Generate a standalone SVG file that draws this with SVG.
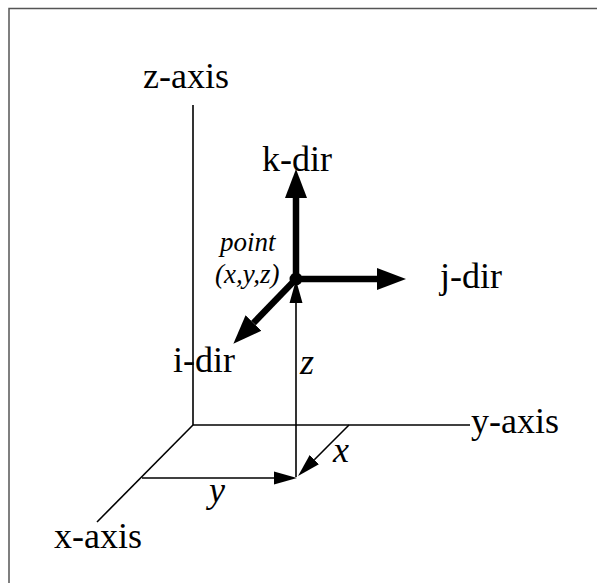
<svg xmlns="http://www.w3.org/2000/svg" width="597" height="583" viewBox="0 0 597 583">
<style>
.ax{stroke:#000;stroke-width:1.6;fill:none}
.thin{stroke:#000;stroke-width:1.6;fill:none;marker-end:url(#hThin)}
.thick{stroke:#000;stroke-width:6.5;fill:none;marker-end:url(#hThick)}
.lab{font-family:"Liberation Serif","Times New Roman",serif;font-size:36px;fill:#000}
.it{font-family:"Liberation Serif","Times New Roman",serif;font-style:italic;fill:#000}
</style>
<defs>
<marker id="hThick" markerUnits="userSpaceOnUse" viewBox="0 0 30 24" markerWidth="30" markerHeight="24" refX="0" refY="12" orient="auto">
<path d="M0,1 L29,12 L0,23 Z" fill="#000"/>
</marker>
<marker id="hThin" markerUnits="userSpaceOnUse" viewBox="0 0 24 14" markerWidth="24" markerHeight="14" refX="0" refY="7" orient="auto">
<path d="M0,0.5 L23,7 L0,13.5 Z" fill="#000"/>
</marker>
</defs>
<rect width="597" height="583" fill="#fff"/>
<path d="M9,583 L9,8.5 L597,8.5" stroke="#555" stroke-width="1.5" fill="none"/>
<g id="axes">
<line class="ax" x1="193" y1="105" x2="193" y2="425"/>
<line class="ax" x1="193" y1="425" x2="470" y2="425"/>
<line class="ax" x1="193" y1="425" x2="97" y2="522"/>
</g>
<g id="connectors">
<line class="thin" x1="296" y1="477" x2="296" y2="303"/>
<line class="thin" x1="142" y1="478" x2="274" y2="478"/>
<line class="thin" x1="349" y1="425" x2="314.3" y2="459.7"/>
<line class="thick" x1="296" y1="279" x2="296" y2="198"/>
<line class="thick" x1="296" y1="279" x2="377" y2="279"/>
<line class="thick" x1="296" y1="279" x2="253.5" y2="323"/>
</g>
<g id="point">
<circle cx="296" cy="279" r="6.5" fill="#000"/>
<text class="it" x="220" y="251" font-size="27">point</text>
<text class="it" x="215" y="283" font-size="27">(x,y,z)</text>
</g>
<g id="labels">
<text class="lab" x="143" y="88">z-axis</text>
<text class="lab" x="262" y="171">k-dir</text>
<text class="lab" x="440" y="288">j-dir</text>
<text class="lab" x="173" y="372">i-dir</text>
<text class="lab" x="471" y="433">y-axis</text>
<text class="lab" x="54" y="548">x-axis</text>
<text class="it" x="300" y="374" font-size="36">z</text>
<text class="it" x="333" y="462" font-size="36">x</text>
<text class="it" x="209" y="502" font-size="36">y</text>
</g>
</svg>
